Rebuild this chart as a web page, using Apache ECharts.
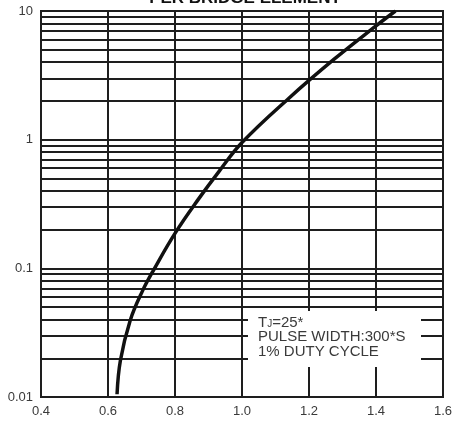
<!DOCTYPE html>
<html>
<head>
<meta charset="utf-8">
<script src="https://cdn.jsdelivr.net/npm/echarts@6/dist/echarts.min.js"></script>
<style>
html,body{margin:0;padding:0;background:#fff;}
#chart{width:466px;height:422px;}
</style>
</head>
<body>
<div id="chart"></div>
<script>
// ---- data ----
const titleText = 'PER BRIDGE ELEMENT';
const forwardVoltage = [0.627, 0.637, 0.666, 0.703, 0.739, 0.80, 0.870, 0.931, 1.00, 1.14, 1.275, 1.40, 1.458];
const forwardCurrent = [0.0105, 0.0192, 0.0392, 0.0668, 0.10, 0.187, 0.345, 0.565, 0.95, 2.10, 4.22, 7.66, 10];
const xTickLabels = ['0.4', '0.6', '0.8', '1.0', '1.2', '1.4', '1.6'];
const yTickLabels = ['0.01', '0.1', '1', '10'];
const yMinorGrid = [0.02, 0.03, 0.04, 0.05, 0.06, 0.07, 0.08, 0.09,
                    0.2, 0.3, 0.4, 0.5, 0.6, 0.7, 0.8, 0.9,
                    2, 3, 4, 5, 6, 7, 8, 9];
const noteLines = ['T{s|J}=25*', 'PULSE WIDTH:300*S', '1% DUTY CYCLE'];

const chart = echarts.init(document.getElementById('chart'), null, {renderer: 'canvas'});
const lineColor = '#1e1e1e';
const textColor = '#3a3a3a';
const font = 'Liberation Sans, Arial, sans-serif';

const curve = forwardVoltage.map((v, i) => [v, forwardCurrent[i]]);

chart.setOption({
  animation: false,
  backgroundColor: '#fff',
  grid: {left: 41, right: 23, top: 11, bottom: 25, show: true, borderColor: lineColor, borderWidth: 2, backgroundColor: 'transparent'},
  xAxis: {
    type: 'value', min: 0.4, max: 1.6, interval: 0.2,
    axisLine: {show: true, lineStyle: {color: lineColor, width: 2}},
    axisTick: {show: false},
    splitLine: {show: true, lineStyle: {color: lineColor, width: 2}},
    axisLabel: {
      color: textColor, fontSize: 13, fontFamily: font, margin: 8,
      formatter: function (v) {
        const idx = Math.round((v - 0.4) / 0.2);
        return xTickLabels[idx] !== undefined ? xTickLabels[idx] : '';
      }
    }
  },
  yAxis: {
    type: 'log', min: 0.01, max: 10, logBase: 10,
    axisLine: {show: true, lineStyle: {color: lineColor, width: 2}},
    axisTick: {show: false},
    splitLine: {show: true, lineStyle: {color: lineColor, width: 2}},
    axisLabel: {
      color: textColor, fontSize: 13, fontFamily: font, margin: 8,
      formatter: function (v) {
        const idx = Math.round(Math.log10(v) + 2);
        return yTickLabels[idx] !== undefined ? yTickLabels[idx] : '';
      }
    }
  },
  graphic: [
    {
      type: 'text', z: 20,
      x: 245, y: -10,
      style: {text: titleText, font: 'bold 17px ' + font, fill: '#111', textAlign: 'center'}
    },
    {
      type: 'rect', z: 3,
      shape: {x: 248, y: 311, width: 173, height: 56},
      style: {fill: '#fff'}
    },
    {
      type: 'text', z: 4,
      x: 258, y: 315,
      style: {
        text: noteLines.join('\n'),
        font: '15px ' + font,
        fill: textColor,
        lineHeight: 14.8,
        rich: {s: {fontSize: 10, fontFamily: font, fill: textColor, padding: [4, 0, 0, 0]}}
      }
    }
  ],
  series: [
    {
      type: 'line', z: 1, data: [], silent: true,
      markLine: {
        z: 1,
        silent: true, symbol: ['none', 'none'], animation: false,
        label: {show: false},
        lineStyle: {color: lineColor, width: 2, type: 'solid'},
        data: yMinorGrid.map(v => ({yAxis: v}))
      }
    },
    {
      type: 'line', z: 10, data: curve, smooth: 0.4,
      showSymbol: false, symbol: 'none',
      lineStyle: {color: '#111', width: 3.5},
      clip: true
    }
  ]
});
</script>
</body>
</html>
